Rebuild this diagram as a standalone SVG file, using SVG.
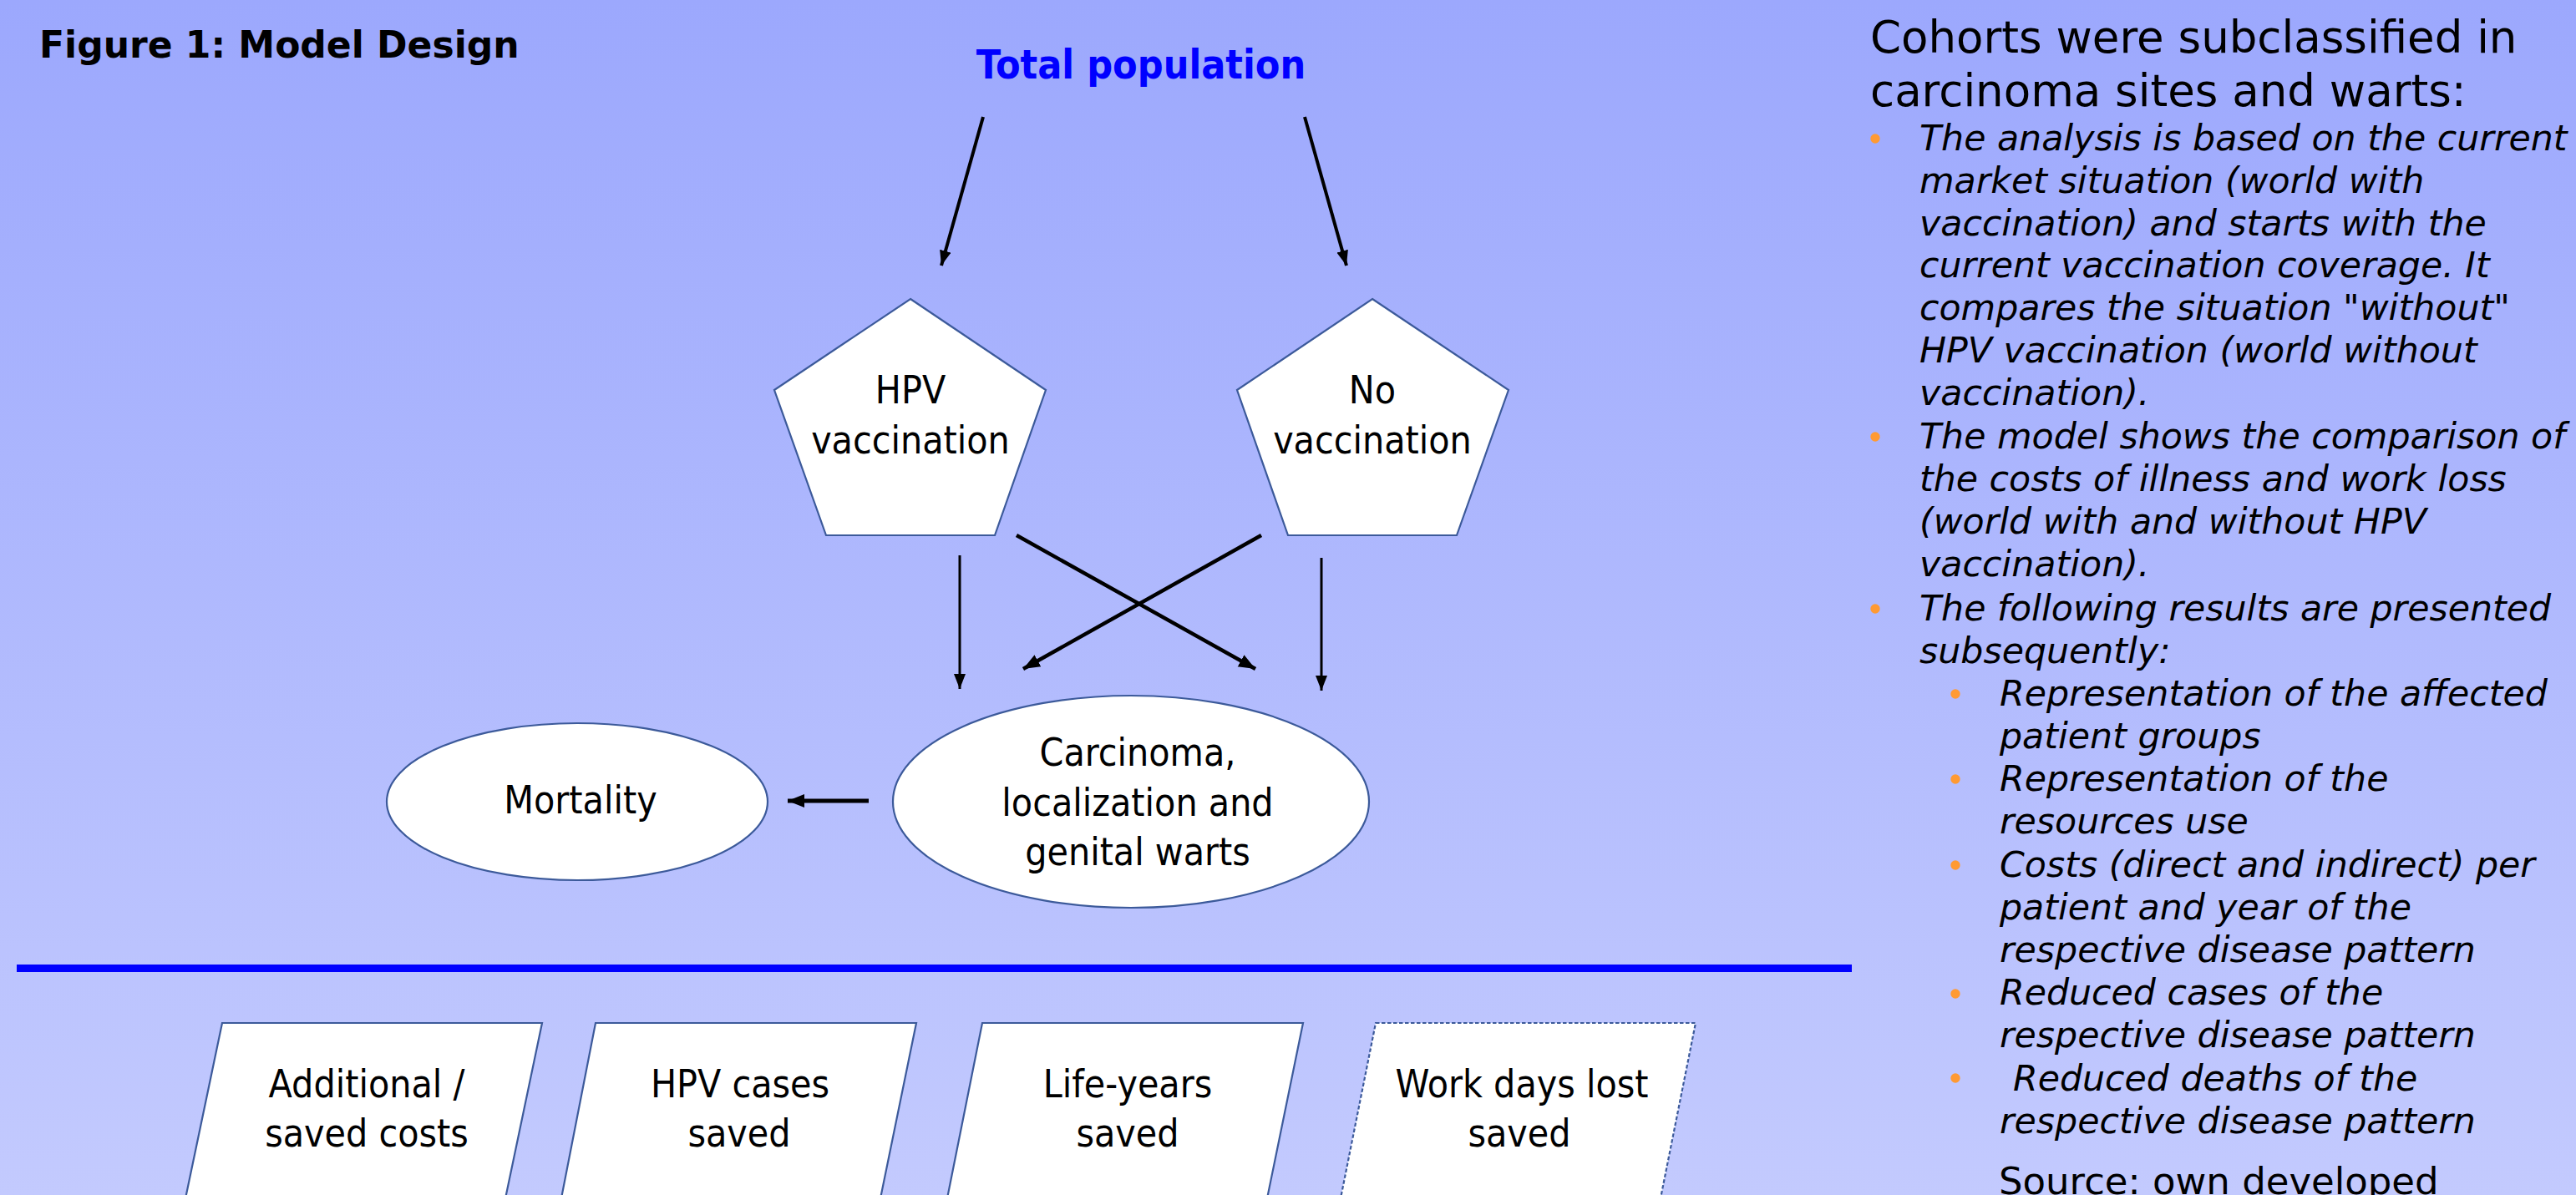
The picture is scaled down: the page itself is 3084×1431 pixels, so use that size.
<svg xmlns="http://www.w3.org/2000/svg" width="3084" height="1431" viewBox="0 0 3084 1431">
<defs>
<linearGradient id="bg" x1="0" y1="0" x2="0" y2="1">
<stop offset="0" stop-color="#9CA8FD"/>
<stop offset="1" stop-color="#C3CAFE"/>
</linearGradient>
<marker id="ah" markerUnits="userSpaceOnUse" markerWidth="22" markerHeight="18" refX="20" refY="8" orient="auto">
<path d="M0,0 L20,8 L0,16 Z" fill="#000"/>
</marker>
<marker id="ahs" markerUnits="userSpaceOnUse" markerWidth="20" markerHeight="16" refX="18" refY="7" orient="auto">
<path d="M0,0 L18,7 L0,14 Z" fill="#000"/>
</marker>
</defs>
<style>
.node{fill:#fff;stroke:#3C5A9A;stroke-width:2.2}
.dash{stroke-dasharray:4.5 2.5}
.lbl{font-family:"DejaVu Sans Condensed","DejaVu Sans",sans-serif;font-stretch:condensed;font-size:46px;fill:#000;text-anchor:middle}
.conn{stroke:#000;fill:none}
.it{font-family:"DejaVu Sans",Verdana,sans-serif;font-style:italic;font-size:42.7px;fill:#000}
.dot{fill:#FF9A33}
</style>
<rect x="0" y="0" width="3084" height="1431" fill="url(#bg)"/>

<text x="47" y="69" font-family="'DejaVu Sans',Verdana,sans-serif" font-weight="bold" font-size="44" fill="#000">Figure 1: Model Design</text>

<g id="total-population">
<text x="1366" y="94" font-family="'DejaVu Sans Condensed','DejaVu Sans',sans-serif" font-stretch="condensed" font-weight="bold" font-size="48" fill="#0000FF" text-anchor="middle">Total population</text>
</g>

<g id="hpv-vaccination">
<polygon class="node" points="1090,358 1252,467 1191,641 989,641 927,467"/>
<text class="lbl" x="1090" y="483">HPV</text>
<text class="lbl" x="1090" y="543">vaccination</text>
</g>

<g id="no-vaccination">
<polygon class="node" points="1643,358 1806,467 1744,641 1542,641 1481,467"/>
<text class="lbl" x="1643" y="483">No</text>
<text class="lbl" x="1643" y="543">vaccination</text>
</g>

<g id="mortality">
<ellipse class="node" cx="691" cy="960" rx="228" ry="94"/>
<text class="lbl" x="695" y="974">Mortality</text>
</g>

<g id="carcinoma">
<ellipse class="node" cx="1354" cy="960" rx="285" ry="127"/>
<text class="lbl" x="1362" y="917">Carcinoma,</text>
<text class="lbl" x="1362" y="977">localization and</text>
<text class="lbl" x="1362" y="1036">genital warts</text>
</g>

<g id="connectors">
<line class="conn" x1="1177" y1="140" x2="1127" y2="318" stroke-width="4" marker-end="url(#ahs)"/>
<line class="conn" x1="1562" y1="140" x2="1612" y2="318" stroke-width="4" marker-end="url(#ahs)"/>
<line class="conn" x1="1149" y1="665" x2="1149" y2="825" stroke-width="3" marker-end="url(#ahs)"/>
<line class="conn" x1="1582" y1="668" x2="1582" y2="827" stroke-width="3" marker-end="url(#ahs)"/>
<line class="conn" x1="1217" y1="641" x2="1503" y2="801" stroke-width="4.5" marker-end="url(#ah)"/>
<line class="conn" x1="1510" y1="641" x2="1225" y2="801" stroke-width="4.5" marker-end="url(#ah)"/>
<line class="conn" x1="1040" y1="959" x2="943" y2="959" stroke-width="5" marker-end="url(#ah)"/>
</g>

<rect id="divider" x="20" y="1155" width="2197" height="9" fill="#0000FF"/>

<g id="costs">
<polygon class="node" points="266,1225 649,1225 604,1440 221,1440"/>
<text class="lbl" x="439" y="1314">Additional /</text>
<text class="lbl" x="439" y="1373">saved costs</text>
</g>
<g id="hpv-cases">
<polygon class="node" points="713,1225 1097,1225 1053,1440 671,1440"/>
<text class="lbl" x="886" y="1314">HPV cases</text>
<text class="lbl" x="885" y="1373">saved</text>
</g>
<g id="life-years">
<polygon class="node" points="1176,1225 1560,1225 1516,1440 1133,1440"/>
<text class="lbl" x="1350" y="1314">Life-years</text>
<text class="lbl" x="1350" y="1373">saved</text>
</g>
<g id="work-days">
<polygon class="node dash" points="1647,1225 2030,1225 1987,1440 1604,1440"/>
<text class="lbl" x="1822" y="1314">Work days lost</text>
<text class="lbl" x="1819" y="1373">saved</text>
</g>

<g id="notes">
<text x="2239" y="63" font-family="'DejaVu Sans',Verdana,sans-serif" font-size="53" fill="#000">Cohorts were subclassified in</text>
<text x="2239" y="127" font-family="'DejaVu Sans',Verdana,sans-serif" font-size="53" fill="#000">carcinoma sites and warts:</text>
<circle class="dot" cx="2245" cy="166" r="5.7"/>
<circle class="dot" cx="2245" cy="523" r="5.7"/>
<circle class="dot" cx="2245" cy="729" r="5.7"/>
<circle class="dot" cx="2341" cy="831" r="5.7"/>
<circle class="dot" cx="2341" cy="933" r="5.7"/>
<circle class="dot" cx="2341" cy="1036" r="5.7"/>
<circle class="dot" cx="2341" cy="1190" r="5.7"/>
<circle class="dot" cx="2341" cy="1291" r="5.7"/>
<text class="it" x="2298" y="180">The analysis is based on the current</text>
<text class="it" x="2298" y="231">market situation (world with</text>
<text class="it" x="2298" y="282">vaccination) and starts with the</text>
<text class="it" x="2298" y="332">current vaccination coverage. It</text>
<text class="it" x="2298" y="383">compares the situation "without"</text>
<text class="it" x="2298" y="434">HPV vaccination (world without</text>
<text class="it" x="2298" y="485">vaccination).</text>
<text class="it" x="2298" y="537">The model shows the comparison of</text>
<text class="it" x="2298" y="588">the costs of illness and work loss</text>
<text class="it" x="2298" y="639">(world with and without HPV</text>
<text class="it" x="2298" y="690">vaccination).</text>
<text class="it" x="2298" y="743">The following results are presented</text>
<text class="it" x="2298" y="794">subsequently:</text>
<text class="it" x="2394" y="845">Representation of the affected</text>
<text class="it" x="2394" y="896">patient groups</text>
<text class="it" x="2394" y="947">Representation of the</text>
<text class="it" x="2394" y="998">resources use</text>
<text class="it" x="2394" y="1050">Costs (direct and indirect) per</text>
<text class="it" x="2394" y="1101">patient and year of the</text>
<text class="it" x="2394" y="1152">respective disease pattern</text>
<text class="it" x="2394" y="1203">Reduced cases of the</text>
<text class="it" x="2394" y="1254">respective disease pattern</text>
<text class="it" x="2410" y="1306">Reduced deaths of the</text>
<text class="it" x="2394" y="1357">respective disease pattern</text>
<text x="2393" y="1430" font-family="'DejaVu Sans',Verdana,sans-serif" font-size="45" fill="#000">Source: own developed</text>
</g>
</svg>
